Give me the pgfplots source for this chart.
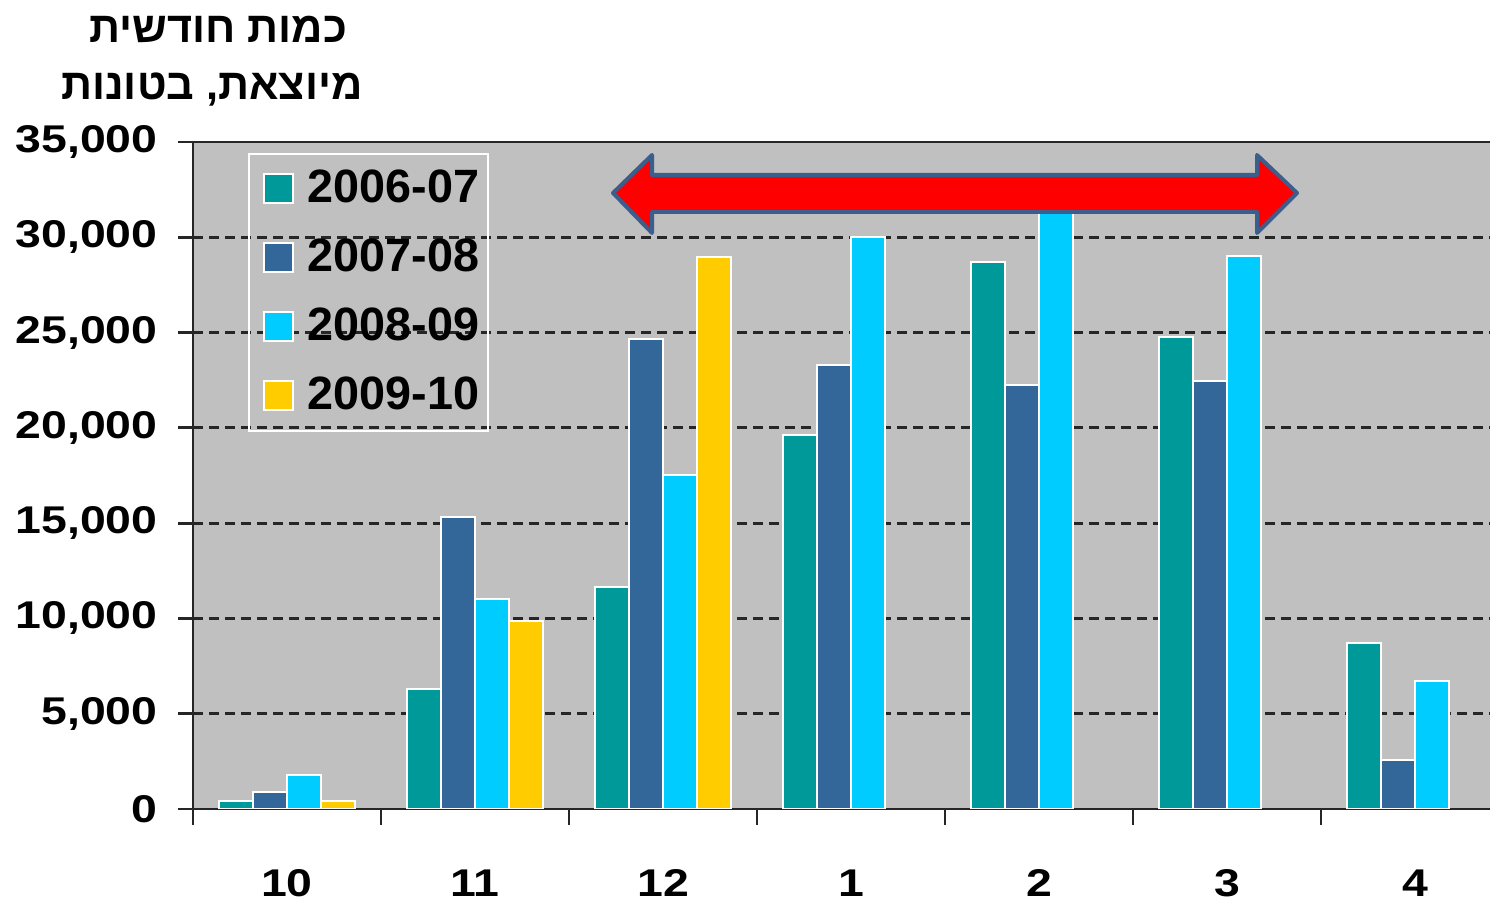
\documentclass[border=0pt]{standalone}
\usepackage{fontspec}
\usepackage{pgfplots}
\pgfplotsset{compat=1.18}
\TeXXeTstate=1
\setmainfont{Liberation Sans}
\newfontfamily\tickfont{Liberation Sans}[FakeStretch=1.2]
\newfontfamily\hebfont[Script=Hebrew]{Liberation Sans}
\definecolor{cTeal}{RGB}{0,153,153}
\definecolor{cBlue}{RGB}{51,102,153}
\definecolor{cCyan}{RGB}{0,204,255}
\definecolor{cYellow}{RGB}{255,204,0}
\definecolor{cBack}{RGB}{192,192,192}
\definecolor{cArrowEdge}{RGB}{59,94,140}
\begin{document}
\begin{tikzpicture}
\begin{axis}[
  scale only axis,
  width=13.02cm, height=6.67cm,
  at={(1.93cm,0.95cm)}, anchor=south west,
  xmin=-0.5, xmax=6.4255,
  ymin=0, ymax=35000,
  ybar=0pt, bar width=0.34cm,
  axis background/.style={fill=cBack},
  axis line style={black!85, line width=0.8pt},
  ytick={0,5000,...,35000},
  extra y ticks={5000,10000,15000,20000,25000,30000},
  extra y tick labels={},
  extra y tick style={grid=major},
  scaled y ticks=false,
  /pgf/number format/.cd, fixed, precision=0, 1000 sep={,}, assume math mode=true,
  /pgfplots/.cd,
  ytick pos=left,
  xtick pos=bottom,
  tick align=outside,
  major tick length=0.15cm,
  minor tick length=0.16cm,
  tick style={black!85, line width=0.8pt},
  xtick={0,1,2,3,4,5,6},
  xticklabels={10,11,12,1,2,3,4},
  minor xtick={-0.5,0.5,1.5,2.5,3.5,4.5,5.5},
  major x tick style={draw=none},
  grid style={black!85, line width=0.9pt, dash pattern=on 0.1cm off 0.06cm},
  tick label style={font=\tickfont\bfseries\fontsize{11}{13}\selectfont},
  xticklabel style={yshift=-0.33cm},
  yticklabel style={xshift=-0.08cm},
  legend style={at={(rel axis cs:0.0422,0.9835)}, anchor=north west,
    draw=white, line width=0.5pt, fill=none,
    font=\bfseries\fontsize{13.3}{15}\selectfont,
    row sep=0.17cm, inner xsep=0.09cm, inner ysep=0.09cm,
    nodes={inner xsep=0cm},
    /tikz/every odd column/.append style={column sep=0.14cm}},
  legend cell align=left,
  legend image code/.code={\path (0cm,0cm); \draw[#1,draw=white,line width=0.5pt] (0.05cm,-0.145cm) rectangle (0.34cm,0.145cm);},
  every axis plot/.append style={draw=white, line width=0.6pt},
]
\addplot[fill=cTeal] coordinates {(0,400) (1,6300) (2,11650) (3,19630) (4,28700) (5,24770) (6,8710)};
\addplot[fill=cBlue] coordinates {(0,910) (1,15300) (2,24660) (3,23300) (4,22250) (5,22460) (6,2570)};
\addplot[fill=cCyan] coordinates {(0,1780) (1,11000) (2,17530) (3,30000) (4,32000) (5,29020) (6,6720)};
\addplot[fill=cYellow] coordinates {(0,400) (1,9870) (2,28970)};
\legend{2006-07,2007-08,2008-09,2009-10}
\end{axis}
\draw[fill=red, draw=cArrowEdge, line width=0.04cm, line join=round]
  (6.13,7.11) -- (6.52,7.49) -- (6.52,7.29) -- (12.57,7.29) -- (12.57,7.49) -- (12.97,7.11)
  -- (12.57,6.71) -- (12.57,6.92) -- (6.52,6.92) -- (6.52,6.71) -- cycle;
\node[anchor=base, inner sep=0pt] at (2.18cm,8.61cm) {\hebfont\bfseries\fontsize{12.3}{14}\selectfont\beginR כמות חודשית\endR};
\node[anchor=base, inner sep=0pt] at (2.12cm,8.04cm) {\hebfont\bfseries\fontsize{12.3}{14}\selectfont\beginR מיוצאת, בטונות\endR};
\pgfresetboundingbox
\path[use as bounding box] (0,0) rectangle (14.9cm,9.04cm);
\end{tikzpicture}
\end{document}
